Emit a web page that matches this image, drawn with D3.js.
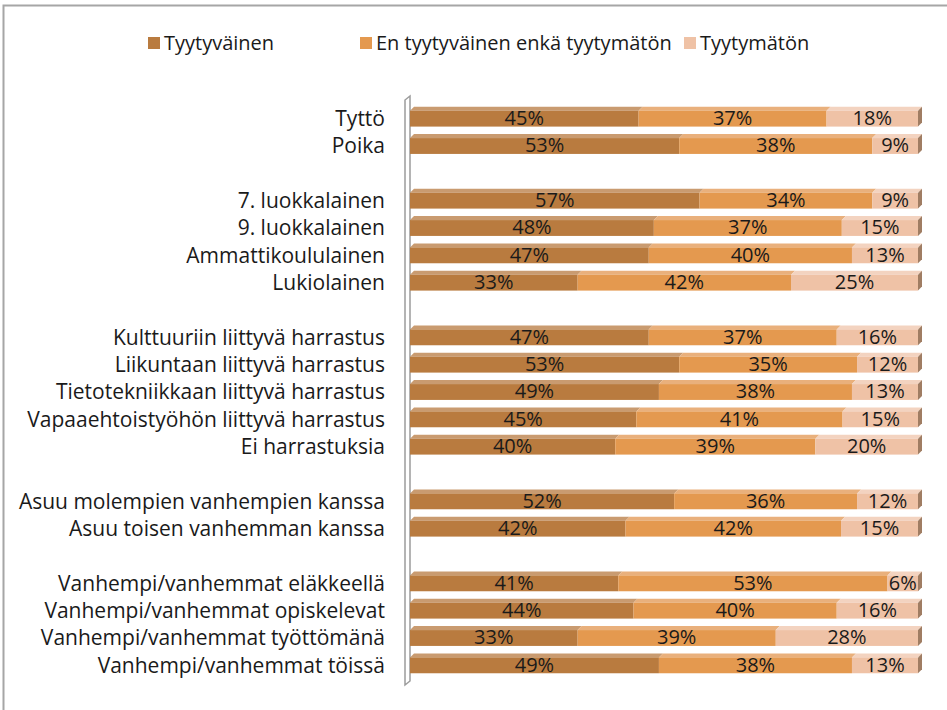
<!DOCTYPE html>
<html>
<head>
<meta charset="utf-8">
<script src="https://cdn.jsdelivr.net/npm/d3@7"></script>
<style>
  body { margin: 0; background: #fff; }
  text { font-family: "Open Sans", Lato, sans-serif; fill: #1a1a1a; }
</style>
</head>
<body>
<div id="chart"></div>
<script>
// series
const seriesNames = ["Tyytyväinen", "En tyytyväinen enkä tyytymätön", "Tyytymätön"];
const colors = ["#B97B3F", "#E4994F", "#EFC2A6"];
const topColors = ["#C99B70", "#E9B07C", "#F3D3C0"];

// rows ("" = spacer rows between groups)
const categories = [
  "Tyttö", "Poika", "",
  "7. luokkalainen", "9. luokkalainen", "Ammattikoululainen", "Lukiolainen", " ",
  "Kulttuuriin liittyvä harrastus", "Liikuntaan liittyvä harrastus",
  "Tietotekniikkaan liittyvä harrastus", "Vapaaehtoistyöhön liittyvä harrastus",
  "Ei harrastuksia", "  ",
  "Asuu molempien vanhempien kanssa", "Asuu toisen vanhemman kanssa", "   ",
  "Vanhempi/vanhemmat eläkkeellä", "Vanhempi/vanhemmat opiskelevat",
  "Vanhempi/vanhemmat työttömänä", "Vanhempi/vanhemmat töissä"
];
const tyytyvainen = [45, 53, null, 57, 48, 47, 33, null, 47, 53, 49, 45, 40, null, 52, 42, null, 41, 44, 33, 49];
const neutraali   = [37, 38, null, 34, 37, 40, 42, null, 37, 35, 38, 41, 39, null, 36, 42, null, 53, 40, 39, 38];
const tyytymaton  = [18,  9, null,  9, 15, 13, 25, null, 16, 12, 13, 15, 20, null, 12, 15, null,  6, 16, 28, 13];

const rows = categories.map((c, i) => ({
  cat: c, s0: tyytyvainen[i], s1: neutraali[i], s2: tyytymaton[i]
})).filter(d => d.s0 != null);

const width = 947, height = 710;
const svg = d3.select("#chart").append("svg")
  .attr("width", width).attr("height", height);

// outer frame
svg.append("rect")
  .attr("x", 3.5).attr("y", 5.5).attr("width", 1000).attr("height", 1000)
  .attr("fill", "none").attr("stroke", "#a6a6a6").attr("stroke-width", 2);

const x = d3.scaleLinear().domain([0, 1]).range([410, 918]);
const y = d3.scaleBand().domain(categories).range([105, 679])
  .paddingInner(0.42).paddingOuter(0.21);
const depth = 4;

const stack = d3.stack().keys(["s0", "s1", "s2"]).offset(d3.stackOffsetExpand);
const series = stack(rows);

// wall
const wallTop = 100, wallBottom = 685;
svg.append("path")
  .attr("d", `M405,${wallBottom} L405,${wallTop} L${405 + depth + 1},${wallTop - depth} L${405 + depth + 1},${wallBottom - depth} Z`)
  .attr("fill", "#fff").attr("stroke", "#9c9c9c").attr("stroke-width", 1.5);

const g = svg.append("g");
series.forEach((s, k) => {
  const grp = g.append("g");
  // top face
  grp.selectAll("path.top").data(s).join("path")
    .attr("class", "top")
    .attr("d", d => {
      const x0 = x(d[0]), x1 = x(d[1]), yy = y(d.data.cat);
      return `M${x0},${yy} L${x0 + depth},${yy - depth} L${x1 + depth},${yy - depth} L${x1},${yy} Z`;
    })
    .attr("fill", topColors[k]);
  // front face
  grp.selectAll("rect").data(s).join("rect")
    .attr("x", d => x(d[0]))
    .attr("y", d => y(d.data.cat))
    .attr("width", d => x(d[1]) - x(d[0]))
    .attr("height", y.bandwidth())
    .attr("fill", colors[k]);
});

// right end faces
g.selectAll("path.side").data(rows).join("path")
  .attr("class", "side")
  .attr("d", d => {
    const x1 = x(1), yy = y(d.cat), h = y.bandwidth();
    return `M${x1},${yy} L${x1 + depth},${yy - depth} L${x1 + depth},${yy + h - depth} L${x1},${yy + h} Z`;
  })
  .attr("fill", "#A07D63");

// value labels
series.forEach((s, k) => {
  g.append("g").selectAll("text").data(s).join("text")
    .attr("x", d => (x(d[0]) + x(d[1])) / 2)
    .attr("y", d => y(d.data.cat) + y.bandwidth() / 2 + 1)
    .attr("text-anchor", "middle")
    .attr("dominant-baseline", "middle")
    .attr("font-size", 20)
    .text(d => d.data["s" + k] + "%");
});

// category axis
const axis = svg.append("g")
  .attr("transform", "translate(405,0)")
  .call(d3.axisLeft(y).tickSize(0).tickPadding(20));
axis.select(".domain").remove();
axis.selectAll("text")
  .attr("font-size", 21)
  .attr("font-family", "'Open Sans', sans-serif")
  .attr("fill", "#1a1a1a")
  .attr("dy", "0.35em");

// legend
const legendX = [148, 360, 684];
const legend = svg.append("g");
seriesNames.forEach((name, i) => {
  const lg = legend.append("g").attr("transform", `translate(${legendX[i]},43)`);
  lg.append("rect").attr("x", 0).attr("y", -6).attr("width", 12).attr("height", 12)
    .attr("fill", colors[i]);
  lg.append("text").attr("x", 16).attr("y", 0).attr("dy", "0.35em")
    .attr("font-size", 20).text(name);
});
</script>
</body>
</html>
